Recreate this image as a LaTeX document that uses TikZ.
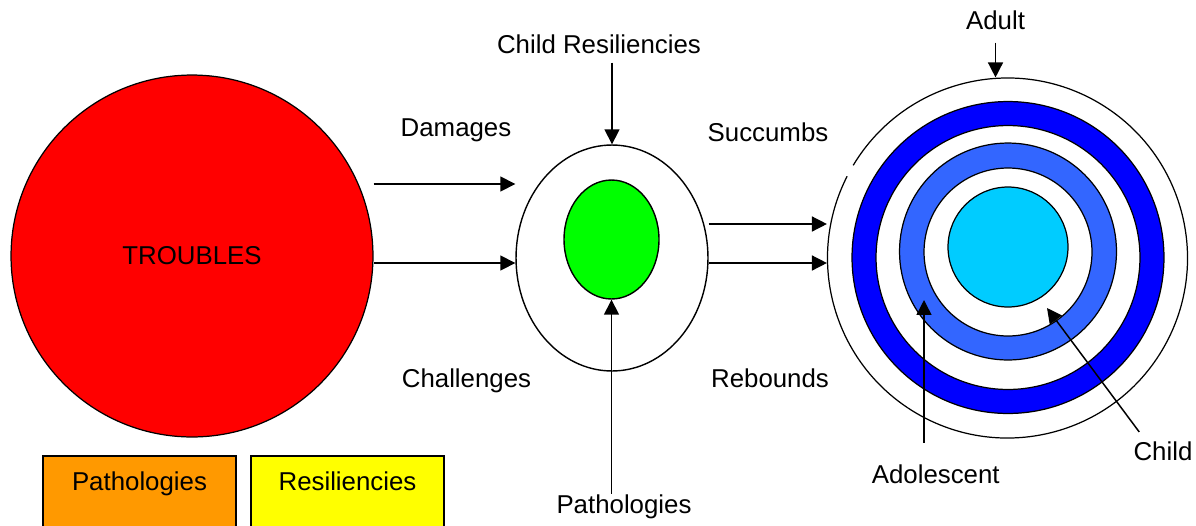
\documentclass[tikz,border=0pt]{standalone}
\usepackage{fontspec}
\setmainfont{Liberation Sans}
\usepackage{xcolor}
\usetikzlibrary{arrows.meta, positioning, shapes.geometric}
\definecolor{troublered}{HTML}{FF0000}
\definecolor{coregreen}{HTML}{00FF00}
\definecolor{adultblue}{HTML}{0000FF}
\definecolor{teenblue}{HTML}{3366FF}
\definecolor{childcyan}{HTML}{00CCFF}
\definecolor{pathorange}{HTML}{FF9900}
\definecolor{resilyellow}{HTML}{FFFF00}

\begin{document}
\begin{tikzpicture}[x=0.02cm, y=-0.02cm,
    font=\fontsize{14.7}{17}\selectfont,
    lbl/.style={inner sep=0pt, anchor=base},
    ring/.style={circle, draw, line width=0.7pt, inner sep=0pt},
    oval/.style={ellipse, draw, line width=0.8pt, inner sep=0pt},
    arr/.style={-{Triangle[length=8.5pt,width=8.5pt]}, line width=0.85pt},
    keybox/.style={draw, line width=0.9pt, anchor=north, minimum width=3.86cm,
      inner ysep=0pt, text height=19.8pt, text depth=25pt}]
  \useasboundingbox (0,0) rectangle (1196,525);
  % troubles
  \node[ring, fill=troublered, minimum size=7.24cm] (troubles) at (192,256) {TROUBLES};
  % the child in the middle
  \node[oval, minimum width=3.84cm, minimum height=4.52cm] (mid) at (612,258) {};
  \node[oval, fill=coregreen, minimum width=1.9cm, minimum height=2.38cm] (core) at (611.5,239.5) {};
  % rings of growth
  \node[ring, draw=none, minimum size=7.2cm] (adultring) at (1007.5,258) {};
  \draw[line width=0.7pt] (adultring.center) ++(211:180) arc[start angle=211, end angle=567, radius=180];
  \node[ring, fill=adultblue, minimum size=6.24cm] (adultband) at (1008,257.5) {};
  \node[ring, fill=white, minimum size=5.28cm] (gapone) at (1008,257.5) {};
  \node[ring, fill=teenblue, minimum size=4.34cm] (teenband) at (1008,251.5) {};
  \node[ring, fill=white, minimum size=3.36cm] (gaptwo) at (1008,252) {};
  \node[ring, fill=childcyan, minimum size=2.4cm] (childcore) at (1008,247) {};
  % labels
  \node[lbl] (damages) at (456,136) {Damages};
  \node[lbl] (challenges) at (466.5,387) {Challenges};
  \node[lbl] (succumbs) at (768,141.5) {Succumbs};
  \node[lbl] (rebounds) at (770,387) {Rebounds};
  \node[lbl] (childres) at (599,53) {Child Resiliencies};
  \node[lbl] (pathlab) at (624,513) {Pathologies};
  \node[lbl] (adult) at (995.5,29) {Adult};
  \node[lbl] (adolescent) at (935.7,483) {Adolescent};
  \node[lbl] (child) at (1163,460) {Child};
  % key
  \node[keybox, fill=pathorange] (pathkey) at (139.5,455) {Pathologies};
  \node[keybox, fill=resilyellow] (resilkey) at (347.5,455) {Resiliencies};
  % arrows
  \coordinate (damagerow) at (0,184);
  \coordinate (challengerow) at (0,263);
  \coordinate (succumbrow) at (0,224);
  \coordinate (reboundrow) at (0,263);
  \coordinate (teentip) at (924,300);
  \coordinate (childtip) at (1047,308);
  \draw[arr] (troubles.east |- damagerow) -- (mid.west |- damagerow);
  \draw[arr] (troubles.east |- challengerow) -- (mid.west |- challengerow);
  \draw[arr] (mid.east |- succumbrow) -- (adultring.west |- succumbrow);
  \draw[arr] (mid.east |- reboundrow) -- (adultring.west |- reboundrow);
  \draw[arr, shorten <=0.18cm] (childres.south -| mid.north) -- (mid.north);
  \draw[arr] (pathlab.north -| core.south) -- (core.south);
  \draw[arr, shorten <=0.26cm] (adult.south) -- (adult.south |- adultring.north);
  \draw[arr, shorten <=0.42cm] (adolescent.north -| teentip) -- (teentip);
  \draw[arr] ([xshift=0.12cm,yshift=0.18cm]child.north west) -- (childtip);
\end{tikzpicture}
\end{document}
